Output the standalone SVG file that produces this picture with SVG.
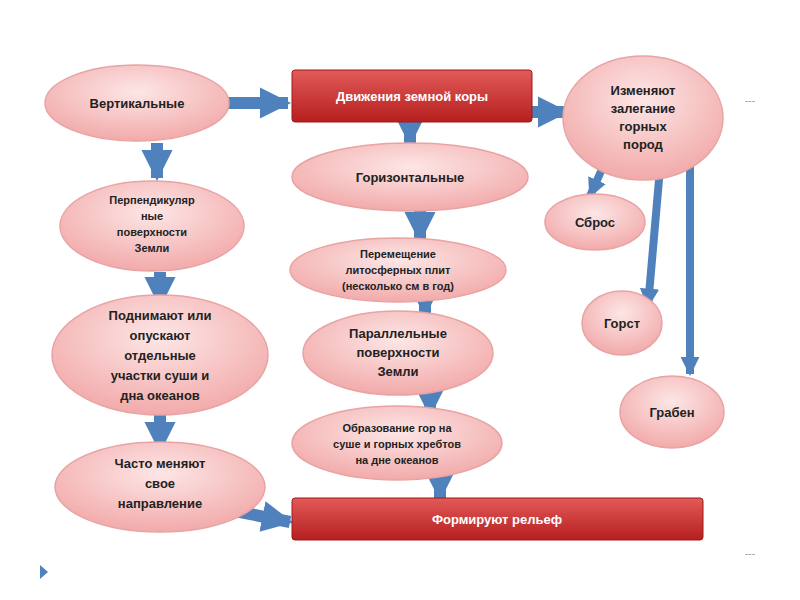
<svg xmlns="http://www.w3.org/2000/svg" width="800" height="600" viewBox="0 0 800 600">
<defs>
<radialGradient id="pk" cx="50%" cy="35%" r="65%"><stop offset="0" stop-color="#fde6e6"/><stop offset="1" stop-color="#f2aaaa"/></radialGradient>
<linearGradient id="rd" x1="0" y1="0" x2="0" y2="1"><stop offset="0" stop-color="#e25a58"/><stop offset="1" stop-color="#b51f1f"/></linearGradient>
<marker id="ah" viewBox="0 0 10 10" refX="9" refY="5" markerWidth="2.6" markerHeight="2.6" orient="auto" markerUnits="strokeWidth"><path d="M0,0L10,5L0,10z" fill="#4f81bd"/></marker>
<marker id="ahs" viewBox="0 0 10 10" refX="9" refY="5" markerWidth="2.4" markerHeight="2.4" orient="auto" markerUnits="strokeWidth"><path d="M0,0L10,5L0,10z" fill="#4f81bd"/></marker>
</defs>
<style>
.el{fill:url(#pk);stroke:#e8a3a3;stroke-width:1.5}
.rc{fill:url(#rd);stroke:#a01818;stroke-width:1}
.t{font-family:"Liberation Sans",Arial,sans-serif;font-weight:bold;font-size:13px;fill:#222;text-anchor:middle}
.s{font-size:11px}
.w{fill:#fff}
.a{stroke:#4f81bd;stroke-width:12;fill:none;marker-end:url(#ah)}
.b{stroke:#4f81bd;stroke-width:8;fill:none;marker-end:url(#ahs)}
</style>
<rect width="800" height="600" fill="#fff"/>
<g id="connectors">
<path class="a" d="M228,103H288"/>
<path class="a" d="M532,112H566"/>
<path class="a" d="M410,122V143"/>
<path class="a" d="M420,208V240"/>
<path class="a" d="M425,300V314"/>
<path class="a" d="M430,395V414"/>
<path class="a" d="M440,480V498"/>
<path class="a" d="M157,143V178"/>
<path class="a" d="M160,272V305"/>
<path class="a" d="M160,414V450"/>
<path class="a" d="M230,510L290,522"/>
<path class="b" d="M606,160L590,196"/>
<path class="b" d="M660,168L648,306"/>
<path class="b" d="M690,160V374"/>
</g>
<g id="n1"><ellipse class="el" cx="137" cy="103" rx="92" ry="38"/><text class="t" x="137" y="108">Вертикальные</text></g>
<g id="n2"><rect class="rc" x="292" y="70" width="240" height="52" rx="3"/><text class="t w" x="412" y="101">Движения земной коры</text></g>
<g id="n3"><ellipse class="el" cx="643" cy="118" rx="80" ry="62"/><text class="t" x="643" y="95">Изменяют</text><text class="t" x="643" y="113">залегание</text><text class="t" x="643" y="131">горных</text><text class="t" x="643" y="149">пород</text></g>
<g id="n4"><ellipse class="el" cx="410" cy="177" rx="118" ry="34"/><text class="t" x="410" y="182">Горизонтальные</text></g>
<g id="n5"><ellipse class="el" cx="398" cy="270" rx="108" ry="32"/><text class="t s" x="398" y="258">Перемещение</text><text class="t s" x="398" y="274">литосферных плит</text><text class="t s" x="398" y="290">(несколько см в год)</text></g>
<g id="n6"><ellipse class="el" cx="398" cy="353" rx="95" ry="42"/><text class="t" x="398" y="338">Параллельные</text><text class="t" x="398" y="357">поверхности</text><text class="t" x="398" y="376">Земли</text></g>
<g id="n7"><ellipse class="el" cx="397" cy="443" rx="105" ry="37"/><text class="t s" x="397" y="432">Образование гор на</text><text class="t s" x="397" y="448">суше и горных хребтов</text><text class="t s" x="397" y="464">на дне океанов</text></g>
<g id="n8"><rect class="rc" x="292" y="498" width="411" height="42" rx="3"/><text class="t w" x="497" y="524">Формируют рельеф</text></g>
<g id="n9"><ellipse class="el" cx="152" cy="226" rx="92" ry="45"/><text class="t s" x="152" y="204">Перпендикуляр</text><text class="t s" x="152" y="220">ные</text><text class="t s" x="152" y="236">поверхности</text><text class="t s" x="152" y="252">Земли</text></g>
<g id="n10"><ellipse class="el" cx="160" cy="355" rx="108" ry="60"/><text class="t" x="160" y="320">Поднимают или</text><text class="t" x="160" y="340">опускают</text><text class="t" x="160" y="360">отдельные</text><text class="t" x="160" y="380">участки суши и</text><text class="t" x="160" y="400">дна океанов</text></g>
<g id="n11"><ellipse class="el" cx="160" cy="487" rx="105" ry="45"/><text class="t" x="160" y="468">Часто меняют</text><text class="t" x="160" y="488">свое</text><text class="t" x="160" y="508">направление</text></g>
<g id="n12"><ellipse class="el" cx="595" cy="222" rx="50" ry="28"/><text class="t" x="595" y="227">Сброс</text></g>
<g id="n13"><ellipse class="el" cx="622" cy="323" rx="40" ry="32"/><text class="t" x="622" y="328">Горст</text></g>
<g id="n14"><ellipse class="el" cx="672" cy="412" rx="52" ry="36"/><text class="t" x="672" y="417">Грабен</text></g>
<path d="M40,565L48,572L40,579z" fill="#4f81bd"/>
<text x="745" y="104" font-family="Liberation Sans,sans-serif" font-size="10" fill="#999">---</text>
<text x="745" y="557" font-family="Liberation Sans,sans-serif" font-size="10" fill="#999">---</text>
</svg>
